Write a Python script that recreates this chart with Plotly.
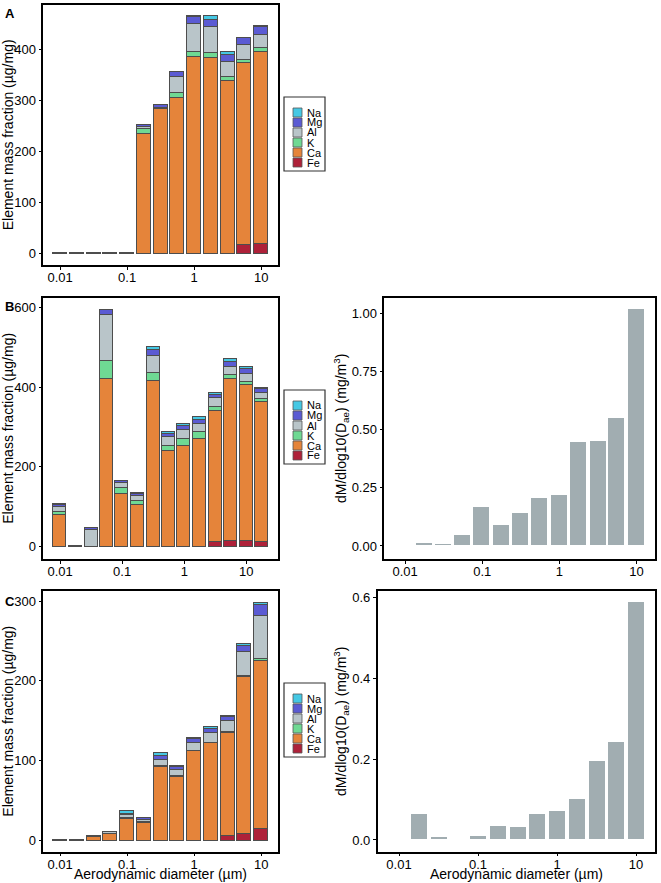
import numpy as np
import plotly.graph_objects as go

# ---------------- data ----------------
elements = ["Na", "Mg", "Al", "K", "Ca", "Fe"]          # legend order (top -> bottom)
stack_order = ["Fe", "Ca", "K", "Al", "Mg", "Na"]       # stacking order (bottom -> top)
colors = {"Na": "#45C8E4", "Mg": "#5B5BD3", "Al": "#B9C5C9",
          "K": "#6FD993", "Ca": "#E5843A", "Fe": "#AE2139"}

diam_13 = [0.010, 0.018, 0.032, 0.056, 0.10, 0.18, 0.32, 0.56, 1.0, 1.8, 3.2, 5.6, 10]
diam_14 = [0.010, 0.018, 0.032, 0.056, 0.10, 0.18, 0.32, 0.56, 1.0, 1.8, 3.2, 5.6, 10, 18]

tick_vals = [0.01, 0.1, 1, 10]
tick_text = ["0.01", "0.1", "1", "10"]

# Panel A (ug/mg)
a_Fe = [0, 0, 0, 0, 0, 0, 0, 0, 0, 0, 0, 16, 18]
a_Ca = [0, 0, 0, 0, 0, 235, 284, 305, 386, 384, 338, 357, 376]
a_K = [0, 0, 0, 0, 0, 10, 1, 9, 9, 8, 7, 6, 8]
a_Al = [1.5, 1.5, 1.5, 1.5, 1.5, 2, 1, 31, 55, 51, 31, 29, 27]
a_Mg = [0, 0, 0, 0, 0, 5, 5, 11, 14, 15, 13, 14, 14]
a_Na = [0, 0, 0, 0, 0, 0, 0, 0, 1, 8, 5, 1, 3]

# Panel B left (ug/mg)
b_Fe = [0, 0, 0, 0, 0, 0, 0, 0, 0, 0, 12, 16, 15, 12]
b_Ca = [81, 0, 0, 421, 132, 104, 415, 240, 252, 271, 330, 405, 391, 352]
b_K = [6, 0, 0, 46, 16, 10, 22, 14, 19, 17, 10, 10, 8, 7]
b_Al = [12, 2, 42, 115, 12, 13, 42, 21, 22, 21, 21, 21, 19, 15]
b_Mg = [7, 0, 5, 12, 5, 5, 15, 8, 9, 9, 9, 12, 13, 10]
b_Na = [2, 0, 0, 0, 0, 2, 7, 6, 6, 7, 5, 7, 6, 3]

# Panel C left (ug/mg)
c_Fe = [0, 0, 0, 0, 0, 0, 0, 0, 0, 0, 6, 9, 15]
c_Ca = [0, 0, 5, 8, 27, 22, 93, 80, 112, 122, 129, 196, 210]
c_K = [0, 0, 0.5, 1, 1, 1, 1, 1, 1, 1, 1, 2, 3]
c_Al = [1, 1, 0.5, 2, 4, 3, 7, 7.5, 9.5, 12.5, 14, 29.5, 54]
c_Mg = [0, 0, 0, 0, 2, 2, 5, 3.5, 4.5, 4.5, 5, 7.5, 13]
c_Na = [0, 0, 0, 0, 3.5, 0.5, 4, 2, 2, 3, 2, 3, 3]

# Right panels dM/dlog10(Dae) (mg/m3)
b_dm = [0.003, 0.014, 0.011, 0.050, 0.168, 0.092, 0.142, 0.206, 0.219, 0.448, 0.453, 0.553, 1.019]
c_dm = [0.0, 0.064, 0.0074, 0.0033, 0.011, 0.036, 0.033, 0.064, 0.073, 0.101, 0.195, 0.242, 0.588]

panel_A = {"Fe": a_Fe, "Ca": a_Ca, "K": a_K, "Al": a_Al, "Mg": a_Mg, "Na": a_Na}
panel_B = {"Fe": b_Fe, "Ca": b_Ca, "K": b_K, "Al": b_Al, "Mg": b_Mg, "Na": b_Na}
panel_C = {"Fe": c_Fe, "Ca": c_Ca, "K": c_K, "Al": c_Al, "Mg": c_Mg, "Na": c_Na}

# ---------------- layout helpers ----------------
W, H = 661, 883
FONT = "Liberation Sans, Arial, sans-serif"


def fx(x):
    return x / W


def fy(y):
    return 1 - y / H


fig = go.Figure()

left_specs = [
    ("x", "y", diam_13, panel_A),
    ("x2", "y2", diam_14, panel_B),
    ("x4", "y4", diam_13, panel_C),
]
for xa, ya, diam, data in left_specs:
    for el in stack_order:
        fig.add_trace(go.Bar(
            x=np.log10(diam), y=data[el], name=el, width=0.21,
            marker=dict(color=colors[el], line=dict(color="#4d4d4d", width=1)),
            xaxis=xa, yaxis=ya, showlegend=False,
        ))

for xa, ya, vals in [("x3", "y3", b_dm), ("x5", "y5", c_dm)]:
    fig.add_trace(go.Bar(
        x=np.log10(diam_13), y=vals, width=0.22,
        marker=dict(color="#A1ADB1", line=dict(color="white", width=1)),
        xaxis=xa, yaxis=ya, showlegend=False,
    ))

common = dict(showline=True, mirror=True, linecolor="black", linewidth=1.5,
              ticks="outside", ticklen=3, tickcolor="black", tickwidth=1,
              showgrid=False, zeroline=False,
              tickfont=dict(size=13, color="black", family=FONT))

xcommon = dict(common, tickvals=list(np.log10(tick_vals)), ticktext=tick_text,
               ticklabelstandoff=-3)

ytitle_left = "Element mass fraction (µg/mg)"
ytitle_right = "dM/dlog10(D<sub>ae</sub>) (mg/m<sup>3</sup>)"
xtitle = "Aerodynamic diameter (µm)"
tfont = dict(size=14, color="black", family=FONT)

lx = [fx(43.3), fx(278)]
yA = [fy(265), fy(4.7)]
yB = [fy(559), fy(297.7)]
yC = [fy(851.7), fy(590.7)]

fig.update_layout(
    width=W, height=H, margin=dict(l=0, r=0, t=0, b=0),
    paper_bgcolor="white", plot_bgcolor="white",
    barmode="stack", bargap=0,
    font=dict(family=FONT, color="black"),
    xaxis=dict(xcommon, domain=lx, range=[-2.25, 1.25], anchor="y"),
    yaxis=dict(common, domain=yA, range=[-23, 487], tickvals=[0, 100, 200, 300, 400], anchor="x",
               title=dict(text=ytitle_left, font=tfont, standoff=2)),
    xaxis2=dict(xcommon, domain=lx, range=[-2.27, 1.51], anchor="y2"),
    yaxis2=dict(common, domain=yB, range=[-31, 624], tickvals=[0, 200, 400, 600], anchor="x2",
                title=dict(text=ytitle_left, font=tfont, standoff=2)),
    xaxis3=dict(xcommon, domain=[fx(384.3), fx(655)], range=[-2.27, 1.24], anchor="y3"),
    yaxis3=dict(common, domain=yB, range=[-0.056, 1.067], tickvals=[0, 0.25, 0.5, 0.75, 1.0],
                tickformat=".2f", anchor="x3",
                title=dict(text=ytitle_right, font=tfont, standoff=2)),
    xaxis4=dict(xcommon, domain=lx, range=[-2.25, 1.25], anchor="y4"),
    yaxis4=dict(common, domain=yC, range=[-14, 313], tickvals=[0, 100, 200, 300], anchor="x4",
                title=dict(text=ytitle_left, font=tfont, standoff=2)),
    xaxis5=dict(xcommon, domain=[fx(377.7), fx(655)], range=[-2.27, 1.24], anchor="y5"),
    yaxis5=dict(common, domain=yC, range=[-0.029, 0.616], tickvals=[0, 0.2, 0.4, 0.6],
                tickformat=".1f", anchor="x5",
                title=dict(text=ytitle_right, font=tfont, standoff=2)),
)

# x-axis titles of the bottom row (placed as text below the tick labels)
for xc in [(43.3 + 278) / 2, (377.7 + 655) / 2]:
    fig.add_annotation(text=xtitle, x=fx(xc), y=0, xref="paper", yref="paper",
                       showarrow=False, xanchor="center", yanchor="bottom", font=tfont,
                       yshift=-1)

# panel letters
for letter, yc in [("A", 14), ("B", 306), ("C", 601)]:
    fig.add_annotation(text="<b>%s</b>" % letter, x=fx(9.5), y=fy(yc), xref="paper", yref="paper",
                       showarrow=False, font=dict(size=13, color="black", family=FONT),
                       xanchor="center", yanchor="middle")

# compact legends, as in the reference
shapes = []
for top in [97, 390, 683]:
    left, right, bottom = 284, 325, top + 74
    shapes.append(dict(type="rect", xref="paper", yref="paper",
                       x0=fx(left), x1=fx(right), y0=fy(bottom), y1=fy(top),
                       line=dict(color="#333333", width=1.2), fillcolor="white", layer="above"))
    for i, el in enumerate(elements):
        y0 = top + 11 + 10 * i
        shapes.append(dict(type="rect", xref="paper", yref="paper",
                           x0=fx(293), x1=fx(302), y0=fy(y0 + 9), y1=fy(y0),
                           line=dict(color="#555555", width=0.8), fillcolor=colors[el], layer="above"))
        fig.add_annotation(text=el, x=fx(305), y=fy(y0 + 4.5), xref="paper", yref="paper",
                           showarrow=False, xanchor="left", yanchor="middle",
                           font=dict(size=11, color="black", family=FONT))
fig.update_layout(shapes=shapes)

fig.write_html("out.html", config={"displayModeBar": False},
               post_script="document.body.style.margin='0px';")
